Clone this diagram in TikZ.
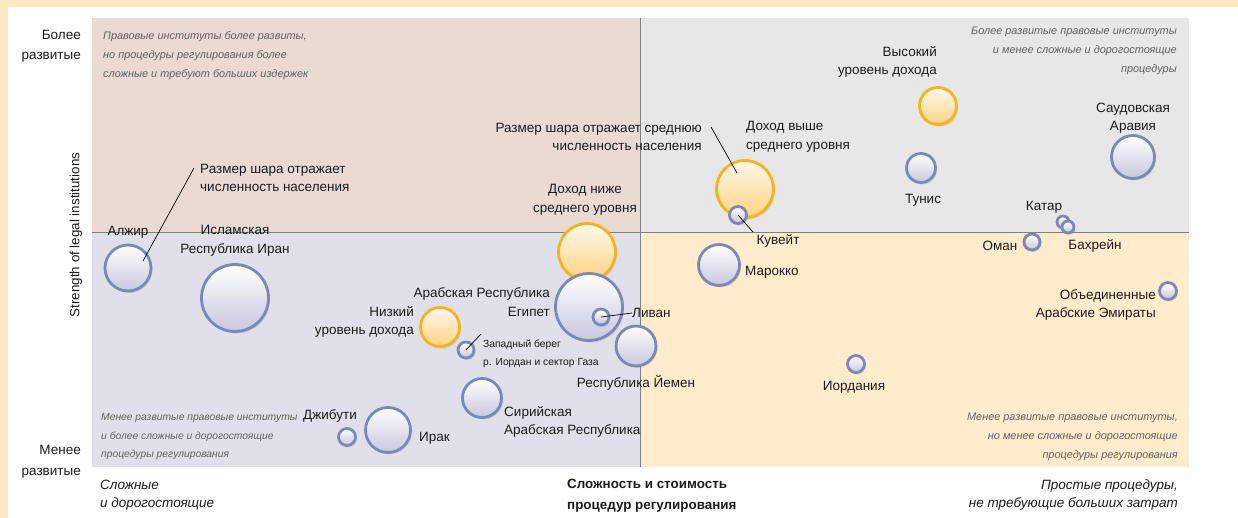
\documentclass[tikz,border=0pt]{standalone}
\usepackage{fontspec}
\setmainfont{Liberation Sans}
\usepackage{tikz}
\usetikzlibrary{shadows}
\definecolor{frame}{HTML}{FEE8C1}
\definecolor{qTL}{HTML}{E9DAD3}
\definecolor{qTR}{HTML}{E6E7E6}
\definecolor{qBL}{HTML}{DFE0E9}
\definecolor{qBR}{HTML}{FEECCD}
\definecolor{axisgray}{HTML}{7F7F7F}
\definecolor{bubline}{HTML}{7F87B6}
\definecolor{bubfill}{HTML}{C6C8DE}
\definecolor{incline}{HTML}{F8B416}
\definecolor{incfill}{HTML}{FDD480}
\definecolor{inctop}{HTML}{FFF8EE}
\definecolor{notegray}{HTML}{626262}
\definecolor{txt}{HTML}{1C1C1C}
\newcommand{\LB}{\fontsize{13.5}{18.5}\selectfont}
\newcommand{\NT}{\fontsize{10.9}{19}\selectfont\itshape}

\begin{document}
\begin{tikzpicture}[x=1pt, y=-1pt,
  bub/.style={circle, draw=bubline, line width=2.8pt, top color=white,
    bottom color=bubfill, inner sep=0pt,
    drop shadow={opacity=0.22, shadow xshift=1.5pt, shadow yshift=-2pt}},
  inc/.style={bub, draw=incline, top color=inctop, bottom color=incfill},
  lbl/.style={font=\LB, text=txt, inner sep=0pt},
  note/.style={font=\NT, text=notegray, inner sep=0pt},
  lead/.style={black, line width=0.7pt}]

  \useasboundingbox (0,0) rectangle (1238,518);
  \fill[white] (0,0) rectangle (1238,518);
  \fill[frame] (0,0) rectangle (1238,7);
  \fill[frame] (0,0) rectangle (8,518);

  % quadrants
  \coordinate (tl) at (92,18);
  \coordinate (mid) at (640,233);
  \coordinate (br) at (1189,467);
  \fill[qTL] (tl) rectangle (mid);
  \fill[qTR] (640,18) rectangle (1189,233);
  \fill[qBL] (92,233) rectangle (640,467);
  \fill[qBR] (mid) rectangle (br);
  \draw[axisgray, line width=1pt] (92,233) -- (1189,233);
  \draw[axisgray, line width=1pt] (640,18) -- (640,467);

  % quadrant notes
  \node[note, anchor=west, align=left] (nTL) at (103,56)
    {Правовые институты более развиты,\\но процедуры регулирования более\\сложные и требуют больших издержек};
  \node[note, anchor=east, align=right] (nTR) at (1177,51)
    {Более развитые правовые институты\\и менее сложные и дорогостоящие\\процедуры};
  \node[note, anchor=west, align=left, font=\fontsize{10.3}{18.5}\selectfont\itshape] (nBL) at (101,437)
    {Менее развитые правовые институты\\и более сложные и дорогостоящие\\процедуры регулирования};
  \node[note, anchor=east, align=right] (nBR) at (1178,437)
    {Менее развитые правовые институты,\\но менее сложные и дорогостоящие\\процедуры регулирования};

  % axes
  \node[lbl, anchor=east, align=right, font=\fontsize{13.5}{20}\selectfont] (yHi) at (81,46) {Более\\развитые};
  \node[lbl, anchor=east, align=right, font=\fontsize{13.5}{21}\selectfont] (yLo) at (81,462) {Менее\\развитые};
  \node[lbl, rotate=90, font=\fontsize{13.4}{15}\selectfont] (yAx) at (76,235) {Strength of legal institutions};
  \node[lbl, anchor=west, align=left, font=\fontsize{13.5}{18}\selectfont\itshape] (xLo) at (100,495)
    {Сложные\\и дорогостоящие};
  \node[lbl, anchor=west, align=left, font=\fontsize{13.4}{21}\selectfont\bfseries] (xAx) at (567,496)
    {Сложность и стоимость\\процедур регулирования};
  \node[lbl, anchor=east, align=right, font=\fontsize{13.5}{18}\selectfont\itshape] (xHi) at (1178,495)
    {Простые процедуры,\\не требующие больших затрат};

  % income groups
  \node[inc, minimum size=57pt] (lmi) at (587,252) {};
  \node[inc, minimum size=57pt] (umi) at (745,189) {};
  \node[inc, minimum size=37pt] (hi) at (938,106) {};
  \node[inc, minimum size=39pt] (li) at (440,327) {};

  % countries
  \node[bub, minimum size=46pt] (alg) at (128,268) {};
  \node[bub, minimum size=67pt] (irn) at (235,298) {};
  \node[bub, minimum size=17pt] (dji) at (347,437) {};
  \node[bub, minimum size=45pt] (irq) at (388,430) {};
  \node[bub, minimum size=16pt] (wb) at (466,350) {};
  \node[bub, minimum size=39pt] (syr) at (482,398) {};
  \node[bub, minimum size=67pt] (egy) at (589,307) {};
  \node[bub, minimum size=16pt] (leb) at (601,317) {};
  \node[bub, minimum size=40pt] (yem) at (636,346) {};
  \node[bub, minimum size=17pt] (kuw) at (738,215) {};
  \node[bub, minimum size=41pt] (mor) at (719,265) {};
  \node[bub, minimum size=29pt] (tun) at (921,168) {};
  \node[bub, minimum size=43pt] (sau) at (1133,157) {};
  \node[bub, minimum size=12pt] (qat) at (1063,222) {};
  \node[bub, minimum size=12pt] (bhr) at (1068,227) {};
  \node[bub, minimum size=16pt] (omn) at (1032,242) {};
  \node[bub, minimum size=17pt] (uae) at (1168,291) {};
  \node[bub, minimum size=17pt] (jor) at (856,364) {};

  % labels
  \node[lbl] (algL) at (128,232) {Алжир};
  \node[lbl, align=center] (irnL) at (235,241) {Исламская\\Республика Иран};
  \node[lbl, anchor=west, align=left] (popL) at (200,178) {Размер шара отражает\\численность населения};
  \node[lbl, align=center] (lmiL) at (585,200) {Доход ниже\\среднего уровня};
  \node[lbl, anchor=east, align=right] (avgL) at (702,137) {Размер шара отражает среднюю\\численность населения};
  \node[lbl, anchor=west, align=left] (umiL) at (746,137) {Доход выше\\среднего уровня};
  \node[lbl, anchor=east, align=right] (hiL) at (937,62) {Высокий\\уровень дохода};
  \node[lbl] (tunL) at (923,200) {Тунис};
  \node[lbl, align=center] (sauL) at (1133,118) {Саудовская\\Аравия};
  \node[lbl] (qatL) at (1044,207) {Катар};
  \node[lbl] (bhrL) at (1095,246) {Бахрейн};
  \node[lbl] (omnL) at (1000,246) {Оман};
  \node[lbl] (kuwL) at (778,241) {Кувейт};
  \node[lbl, anchor=west] (morL) at (745,272) {Марокко};
  \node[lbl, anchor=east, align=right] (uaeL) at (1156,305) {Объединенные\\Арабские Эмираты};
  \node[lbl] (jorL) at (854,387) {Иордания};
  \node[lbl, anchor=east, align=right] (egyL) at (550,302) {Арабская Республика\\Египет};
  \node[lbl, anchor=east, align=right] (liL) at (414,322) {Низкий\\уровень дохода};
  \node[lbl, anchor=west] (lebL) at (632,313) {Ливан};
  \node[lbl, anchor=west, align=left, font=\fontsize{10.3}{18}\selectfont] (wbL) at (483,354)
    {Западный берег\\р. Иордан и сектор Газа};
  \node[lbl] (yemL) at (636,383) {Республика Йемен};
  \node[lbl, anchor=west, align=left] (syrL) at (504,422) {Сирийская\\Арабская Республика};
  \node[lbl, anchor=west] (irqL) at (419,438) {Ирак};
  \node[lbl] (djiL) at (330,416) {Джибути};

  % leader lines
  \coordinate (popA) at (143,261);
  \coordinate (popB) at (194,168);
  \draw[lead] (popA) -- (popB); %% Algeria -> note
  \coordinate (avgA) at (737,173);
  \coordinate (avgB) at (711,127);
  \draw[lead] (avgA) -- (avgB); %% UMI -> note
  \coordinate (kuwB) at (753,232);
  \draw[lead] (kuw.center) -- (kuwB); %% Kuwait
  \draw[lead] (leb.center) -- (lebL.west); %% Lebanon
  \coordinate (wbB) at (481,334);
  \draw[lead] (wb.center) -- (wbB); %% West Bank
\end{tikzpicture}
\end{document}
